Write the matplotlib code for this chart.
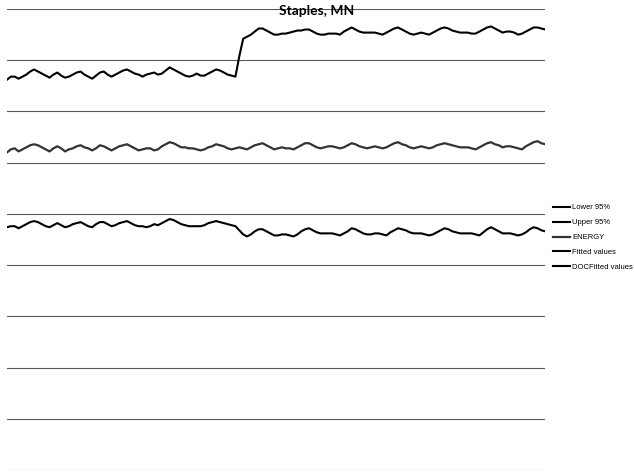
import matplotlib
matplotlib.use('Agg')
import matplotlib.pyplot as plt

# monthly observations, 140 months
months = list(range(140))

upper_95 = [
    381, 384, 384, 382, 384, 386, 389, 391, 389, 387, 385, 383,
    386, 388, 385, 383, 384, 386, 388, 389, 386, 384, 382, 385,
    388, 389, 386, 384, 386, 388, 390, 391, 389, 387, 386, 384,
    386, 387, 388, 386, 387, 390, 393, 391, 389, 387, 385, 384,
    385, 387, 385, 385, 387, 389, 391, 390, 388, 386, 385, 384,
    404, 421, 423, 425, 428, 431, 431, 429, 427, 425, 425, 426,
    426, 427, 428, 429, 429, 430, 430, 428, 426, 425, 425, 426,
    426, 426, 425, 428, 430, 432, 430, 428, 427, 427, 427, 427,
    426, 425, 427, 429, 431, 432, 430, 428, 426, 425, 426, 427,
    426, 425, 427, 429, 431, 432, 431, 429, 428, 427, 427, 427,
    426, 426, 428, 430, 432, 433, 431, 429, 427, 428, 428, 427,
    425, 426, 428, 430, 432, 432, 431, 430,
]

energy = [
    310, 313, 314, 311, 313, 315, 317, 318, 317, 315, 313, 311,
    314, 316, 314, 311, 313, 314, 316, 317, 315, 314, 312, 314,
    317, 316, 314, 312, 314, 316, 317, 318, 316, 314, 312, 313,
    314, 314, 312, 313, 316, 318, 320, 319, 317, 315, 315, 314,
    314, 313, 312, 313, 315, 316, 318, 317, 316, 314, 313, 314,
    315, 314, 313, 315, 317, 318, 319, 317, 315, 313, 314, 315,
    314, 314, 313, 315, 317, 319, 319, 317, 315, 314, 315, 316,
    316, 315, 314, 315, 317, 319, 318, 316, 315, 314, 315, 316,
    315, 314, 315, 317, 319, 320, 318, 317, 315, 314, 315, 316,
    315, 314, 315, 317, 318, 319, 318, 317, 316, 315, 315, 315,
    314, 313, 315, 317, 319, 320, 318, 317, 315, 316, 316, 315,
    314, 313, 316, 318, 320, 321, 319, 318,
]

lower_95 = [
    237, 238, 238, 236, 238, 240, 242, 243, 242, 240, 238, 237,
    239, 241, 239, 237, 238, 240, 241, 242, 240, 238, 237, 240,
    242, 242, 240, 238, 239, 241, 242, 243, 241, 239, 238, 238,
    237, 238, 240, 239, 241, 243, 245, 244, 242, 240, 239, 238,
    238, 238, 238, 239, 241, 242, 243, 242, 241, 240, 239, 238,
    234, 230, 228, 230, 233, 235, 235, 233, 231, 229, 229, 230,
    230, 229, 228, 230, 233, 235, 236, 234, 232, 231, 231, 231,
    231, 230, 229, 231, 233, 236, 235, 233, 231, 230, 230, 231,
    231, 230, 229, 232, 234, 236, 235, 234, 232, 231, 231, 231,
    230, 229, 230, 232, 234, 236, 235, 233, 232, 231, 231, 231,
    231, 230, 229, 232, 235, 237, 235, 233, 231, 231, 231, 230,
    229, 230, 232, 235, 237, 236, 234, 233,
]

grid_levels = [0, 50, 100, 150, 200, 250, 300, 350, 400, 450]

fig = plt.figure(figsize=(6.34, 4.75), dpi=100)
ax = fig.add_axes([0.011, 0.0105, 0.849, 0.9705])

for g in grid_levels:
    ax.axhline(g, color='#5a5a5a', lw=0.8, zorder=1)

ax.plot(months, lower_95, color='black', lw=1.5, label='Lower 95%', zorder=3)
ax.plot(months, upper_95, color='black', lw=1.5, label='Upper 95%', zorder=3)
ax.plot(months, energy, color='#333333', lw=1.6, label='ENERGY', zorder=3)
ax.plot([], [], color='black', lw=1.5, label='Fitted values')
ax.plot([], [], color='black', lw=1.5, label='DOCFitted values')

ax.set_xlim(0, 139)
ax.set_ylim(0, 450)
ax.axis('off')

fig.text(0.5, 0.977, 'Staples, MN', ha='center', va='center',
         fontsize=10, fontweight='bold', family='Lato')

fig.legend(loc='center left', bbox_to_anchor=(0.872, 0.5), frameon=False,
           prop={'family': 'Liberation Sans', 'size': 5.5},
           handlelength=2.3, handletextpad=0.2, labelspacing=1.0,
           borderpad=0, borderaxespad=0)

fig.savefig('out.png', dpi=100)
